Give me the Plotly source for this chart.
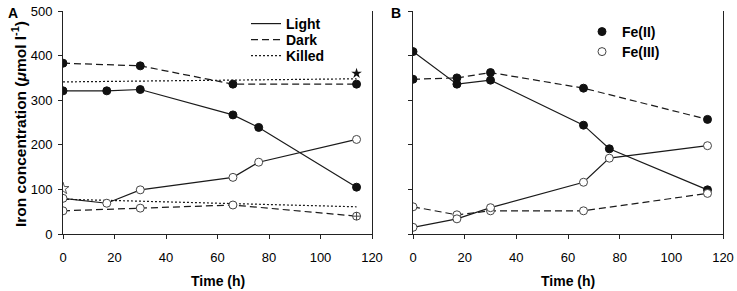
import plotly.graph_objects as go

# ---------------- data ----------------
time_light = [0, 17, 30, 66, 76, 114]
time_dark = [0, 30, 66, 114]
time_killed = [0, 114]

a_light_fe2 = [321, 321, 324, 267, 239, 105]
a_light_fe3 = [80, 69, 99, 127, 161, 212]
a_dark_fe2 = [383, 377, 336, 336]
a_dark_fe3 = [52, 58, 65, 40]
a_killed_fe2 = [341, 348]
a_killed_fe3 = [78, 61]
a_star_fe2_x, a_star_fe2_y = [114], [360]
a_star_fe3_x, a_star_fe3_y = [0], [102]

time_b_solid = [0, 17, 30, 66, 76, 114]
time_b_dash = [0, 17, 30, 66, 114]
b_solid_fe2 = [409, 336, 345, 244, 191, 99]
b_dash_fe2 = [347, 350, 362, 327, 257]
b_solid_fe3 = [15, 34, 59, 116, 170, 198]
b_dash_fe3 = [61, 43, 52, 52, 91]

x_ticks = [0, 20, 40, 60, 80, 100, 120]
y_ticks = [0, 100, 200, 300, 400, 500]

legend_a_names = ["Light", "Dark", "Killed"]
legend_b_names = ["Fe(II)", "Fe(III)"]

# ---------------- styles ----------------
W, H = 737, 291
FONT = "Arial, Liberation Sans, sans-serif"
LC = "#1a1a1a"
DASH = "7px,4px"
DOT = "2px,2px"
MS = 8

def filled():
    return dict(size=MS, color="#111111", line=dict(color="#111111", width=1))

def opened(symbols=None):
    d = dict(size=MS, color="white", line=dict(color="#444444", width=1))
    if symbols is not None:
        d["symbol"] = symbols
    return d

fig = go.Figure()

def add(x, y, dash, marker, xa, ya, mode="lines+markers"):
    fig.add_trace(go.Scatter(
        x=x, y=y, mode=mode, xaxis=xa, yaxis=ya, showlegend=False,
        line=dict(color=LC, width=1.2, dash=dash), marker=marker,
    ))

# Panel A
add(time_killed, a_killed_fe2, DOT, None, "x", "y", mode="lines")
add(time_killed, a_killed_fe3, DOT, None, "x", "y", mode="lines")
add(time_dark, a_dark_fe2, DASH, filled(), "x", "y")
add(time_dark, a_dark_fe3, DASH,
    opened(["circle", "circle", "circle", "circle-cross"]), "x", "y")
add(time_light, a_light_fe2, "solid", filled(), "x", "y")
add(time_light, a_light_fe3, "solid", opened(), "x", "y")
fig.add_trace(go.Scatter(x=a_star_fe2_x, y=a_star_fe2_y, mode="markers",
                         xaxis="x", yaxis="y", showlegend=False,
                         marker=dict(symbol="star", size=8, color="#111111")))
fig.add_trace(go.Scatter(x=a_star_fe3_x, y=a_star_fe3_y, mode="markers",
                         xaxis="x", yaxis="y", showlegend=False,
                         marker=dict(symbol="star", size=9, color="white",
                                     line=dict(color="#555555", width=1))))

# Panel B
add(time_b_dash, b_dash_fe2, DASH, filled(), "x2", "y2")
add(time_b_solid, b_solid_fe2, "solid", filled(), "x2", "y2")
add(time_b_dash, b_dash_fe3, DASH, opened(), "x2", "y2")
add(time_b_solid, b_solid_fe3, "solid", opened(), "x2", "y2")

def px_x(p):
    return p / W

def px_y(p):
    return 1 - p / H

LEG_FONT = dict(family=FONT, size=14, color="black", weight="bold")
legends = {}

# Legend A (line styles), one legend box per entry for exact spacing
for i, (name, dash) in enumerate(zip(legend_a_names, ["solid", DASH, DOT])):
    key = "legend" if i == 0 else f"legend{i + 1}"
    fig.add_trace(go.Scatter(x=[None], y=[None], mode="lines", name=name,
                             line=dict(color=LC, width=1.2, dash=dash),
                             legend=key, xaxis="x", yaxis="y"))
    legends[key] = dict(x=px_x(246), y=px_y(24 + 16 * i), xanchor="left",
                        yanchor="middle", bgcolor="rgba(0,0,0,0)",
                        font=LEG_FONT, borderwidth=0)

# Legend B (marker styles)
for i, (name, mk) in enumerate(zip(legend_b_names, [filled(), opened()])):
    key = f"legend{4 + i}"
    fig.add_trace(go.Scatter(x=[None], y=[None], mode="markers", name=name,
                             marker=mk, legend=key, xaxis="x2", yaxis="y2"))
    legends[key] = dict(x=px_x(582), y=px_y(32 + 20 * i), xanchor="left",
                        yanchor="middle", bgcolor="rgba(0,0,0,0)",
                        font=LEG_FONT, borderwidth=0)

ydom = [px_y(234), px_y(11)]
axis_common = dict(showline=True, linecolor="#222222", linewidth=1,
                   ticks="outside", ticklen=4, tickcolor="#222222",
                   showgrid=False, zeroline=False, automargin=False,
                   tickfont=dict(family=FONT, size=13, color="black"))

def ann(text, x, y, angle=0, size=14):
    return dict(text=text, x=px_x(x), y=px_y(y), xref="paper", yref="paper",
                xanchor="center", yanchor="middle", textangle=angle,
                showarrow=False, font=dict(size=size, family=FONT, color="black"))

fig.update_layout(
    width=W, height=H,
    margin=dict(l=0, r=0, t=0, b=0),
    paper_bgcolor="white", plot_bgcolor="white",
    font=dict(family=FONT, color="black"),
    xaxis=dict(domain=[px_x(63), px_x(372)], range=[0, 120], tickvals=x_ticks,
               anchor="y", ticklabelstandoff=7, **axis_common),
    yaxis=dict(domain=ydom, range=[0, 500], tickvals=y_ticks, anchor="x",
               mirror=True, ticklabelstandoff=3, **axis_common),
    xaxis2=dict(domain=[px_x(413), px_x(723)], range=[0, 120], tickvals=x_ticks,
                anchor="y2", ticklabelstandoff=7, **axis_common),
    yaxis2=dict(domain=ydom, range=[0, 500], tickvals=y_ticks, anchor="x2",
                mirror=True, showticklabels=False,
                **{k: v for k, v in axis_common.items() if k != "tickfont"}),
    annotations=[
        ann("<b>A</b>", 13, 13),
        ann("<b>B</b>", 396, 13),
        ann("<b>Time (h)</b>", 217.5, 281),
        ann("<b>Time (h)</b>", 568, 281),
        ann("<b>Iron concentration (<i>μ</i>mol l<sup>-1</sup>)</b>", 19, 124, -90,
            size=15.5),
    ],
    **legends,
)

fig.write_html("out.html",
               config={"displayModeBar": False},
               post_script="document.body.style.margin='0';"
                           "document.body.style.padding='0';")
